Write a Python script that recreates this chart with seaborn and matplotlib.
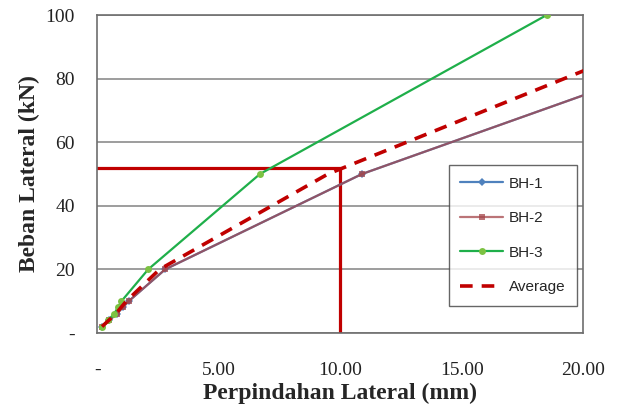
import matplotlib
matplotlib.use("Agg")
import matplotlib.pyplot as plt
import seaborn as sns
from matplotlib.ticker import MultipleLocator, FuncFormatter

# Data
load_kn = [2, 4, 6, 8, 10, 20, 50, 100]
bh1_mm = [0.2, 0.5, 0.8, 1.05, 1.3, 2.8, 10.9, 29.3]
bh2_mm = [0.2, 0.5, 0.8, 1.05, 1.3, 2.8, 10.9, 29.3]
bh3_mm = [0.2, 0.45, 0.7, 0.85, 1.0, 2.1, 6.7, 18.5]
avg_mm = [0.2, 0.48, 0.77, 0.98, 1.2, 2.57, 9.5, 25.7]
limit_mm = 10.0
limit_kn = 52.0
x_ticks = [0, 5, 10, 15, 20]
y_ticks = [0, 20, 40, 60, 80, 100]

sns.set_style("white")
plt.rcParams['font.family'] = ['Liberation Serif', 'DejaVu Serif']

fig = plt.figure(figsize=(6.19, 4.07), dpi=100)
ax = fig.add_axes([0.157, 0.182, 0.785, 0.781])

# limit lines
ax.plot([0, limit_mm], [limit_kn, limit_kn], color='#C00000', lw=2.3, zorder=2)
ax.plot([limit_mm, limit_mm], [0, limit_kn], color='#C00000', lw=2.3, zorder=2)

sns.lineplot(x=bh1_mm, y=load_kn, ax=ax, sort=False, estimator=None, color='#4F81BD',
             marker='D', markersize=4, markeredgewidth=0, lw=1.6, label='BH-1', zorder=3)
sns.lineplot(x=bh2_mm, y=load_kn, ax=ax, sort=False, estimator=None, color='#A5464A',
             marker='s', markersize=4, markeredgewidth=0, lw=1.6, label='BH-2', zorder=4)
sns.lineplot(x=bh3_mm, y=load_kn, ax=ax, sort=False, estimator=None, color='#1FAF4A',
             marker='o', markersize=5, markerfacecolor='#7CC242', markeredgewidth=0,
             lw=1.6, label='BH-3', zorder=5)
sns.lineplot(x=avg_mm, y=load_kn, ax=ax, sort=False, estimator=None, color='#C00000',
             lw=2.6, dashes=False, label='Average', zorder=6)
lines = ax.get_lines()
lines[3].set_alpha(0.75)
lines[-1].set_linestyle((0, (3.5, 2.5)))

ax.set_xlim(0, 20)
ax.set_ylim(0, 100)
ax.set_xticks(x_ticks)
ax.set_yticks(y_ticks)
ax.xaxis.set_minor_locator(MultipleLocator(2.5))
ax.yaxis.set_minor_locator(MultipleLocator(5))
fmt_x = FuncFormatter(lambda v, p: '-' if v == 0 else f'{v:.2f}')
fmt_y = FuncFormatter(lambda v, p: '-' if v == 0 else f'{v:.0f}')
ax.xaxis.set_major_formatter(fmt_x)
ax.yaxis.set_major_formatter(fmt_y)
ax.tick_params(axis='both', which='both', direction='in', colors='#808080',
               labelcolor='#222222', labelsize=14)
ax.tick_params(axis='both', which='major', length=5)
ax.tick_params(axis='both', which='minor', length=4)
ax.tick_params(axis='x', pad=21)
ax.tick_params(axis='y', pad=16)
ax.yaxis.grid(True, color='#8C8C8C', lw=1.2)
ax.set_axisbelow(True)
for s in ax.spines.values():
    s.set_color('#6E6E6E')
    s.set_linewidth(1.2)

ax.set_xlabel('Perpindahan Lateral (mm)', fontweight='bold', fontsize=17, labelpad=3)
ax.set_ylabel('Beban Lateral (kN)', fontweight='bold', fontsize=17, labelpad=4)

leg = ax.legend(loc='lower right', bbox_to_anchor=(0.988, 0.085), borderaxespad=0,
                frameon=True, fancybox=False, edgecolor='#404040',
                prop={'family': ['Liberation Sans', 'DejaVu Sans'], 'size': 11},
                handlelength=2.8, borderpad=0.75, labelspacing=1.35, handletextpad=0.4)
leg.get_frame().set_linewidth(1.0)
leg.get_lines()[-1].set_linestyle((0, (3.5, 2.5)))

fig.savefig('out.png', dpi=100)
